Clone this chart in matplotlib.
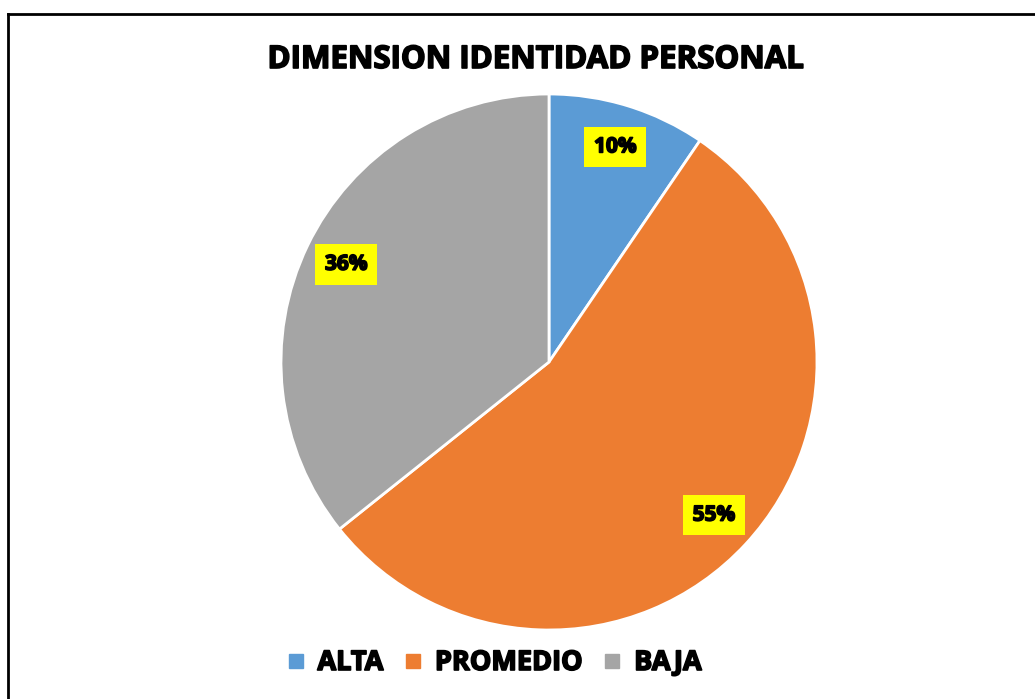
import matplotlib.pyplot as plt
import matplotlib.patheffects as pe
from matplotlib.lines import Line2D

# data
categories = ["ALTA", "PROMEDIO", "BAJA"]
counts = [8, 46, 30]
colors = ["#5B9BD5", "#ED7D31", "#A5A5A5"]
title = "DIMENSION IDENTIDAD PERSONAL"

W, H = 1035, 699
fig = plt.figure(figsize=(W / 100, H / 100), dpi=100)
plt.rcParams['font.family'] = ['Open Sans', 'DejaVu Sans']

# pie axes placed in pixels: center (549, 362), radius 268
cx, cy, r = 549, 362, 268
ax = fig.add_axes([(cx - r) / W, (H - cy - r) / H, 2 * r / W, 2 * r / H])

bold = [pe.withStroke(linewidth=1.2, foreground="black")]

wedges, texts, autotexts = ax.pie(
    counts, colors=colors, startangle=90, counterclock=False,
    autopct=lambda p: f"{p:.0f}%", pctdistance=0.84,
    wedgeprops=dict(edgecolor="white", linewidth=2),
    textprops=dict(fontsize=15, fontweight="bold", color="black"))
for t in autotexts:
    t.set_bbox(dict(facecolor="#FFFF00", edgecolor="none", pad=7))
    t.set_path_effects(bold)
ax.set_xlim(-1, 1)
ax.set_ylim(-1, 1)

fig.text(535 / W, 1 - 60 / H, title, ha="center", va="center",
         fontsize=22.5, fontweight="bold", path_effects=bold)

handles = [Line2D([], [], marker="s", linestyle="none", markersize=10.5,
                  markerfacecolor=c, markeredgecolor=c) for c in colors]
leg = fig.legend(handles, categories, loc="center", ncol=3,
                 bbox_to_anchor=(492 / W, 1 - 663 / H), frameon=False,
                 prop=dict(size=19.5, weight="bold"), handletextpad=0.3,
                 columnspacing=0.6, handlelength=1.0)
for t in leg.get_texts():
    t.set_path_effects(bold)

# outer frame (right/bottom edges fall outside the image)
fig.add_artist(Line2D([8 / W, 8 / W], [0, 1 - 14 / H], color="black", linewidth=2))
fig.add_artist(Line2D([8 / W, 1], [1 - 14 / H, 1 - 14 / H], color="black", linewidth=2))

fig.savefig("out.png", dpi=100)
